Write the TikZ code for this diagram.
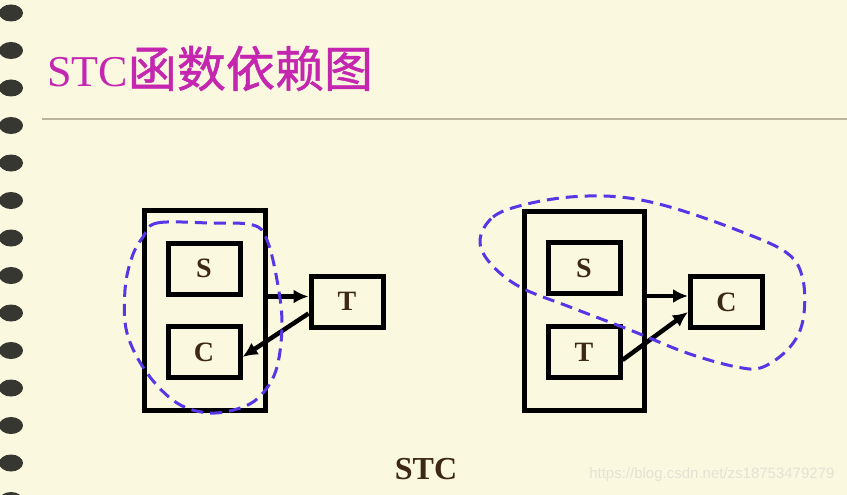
\documentclass[tikz,border=0pt]{standalone}
\usepackage{fontspec}
\setmainfont{Liberation Serif}
\newfontfamily\cjk[FakeBold=1]{Noto Sans CJK SC}
\newfontfamily\urlfont{Liberation Sans}
\usetikzlibrary{arrows.meta,positioning}
\definecolor{paper}{RGB}{251,248,224}
\definecolor{ring}{RGB}{55,55,50}
\definecolor{titlecol}{RGB}{196,38,176}
\definecolor{rulecol}{RGB}{185,180,155}
\definecolor{ink}{RGB}{60,40,20}
\definecolor{hullblue}{RGB}{85,55,230}
\definecolor{mark}{RGB}{228,226,212}

\begin{document}
\begin{tikzpicture}[x=1pt,y=-1pt,
  cell/.style = {draw, line width=5pt, minimum width=72pt, minimum height=51pt,
                 inner sep=0pt, text=ink, font=\fontsize{28}{30}\selectfont\bfseries},
  group/.style = {draw, line width=5pt, inner sep=0pt},
  dep/.style = {line width=4.5pt, -{Latex[length=15pt,width=14pt]}},
  cover/.style = {hullblue, line width=3pt, dash pattern=on 12pt off 7pt}]
	\useasboundingbox (0,0) rectangle (847,495);
	\fill[paper] (0,0) rectangle (847,495);
	% spiral binding
	\foreach \i in {0,...,13}
		\fill[ring] (11,13+37.5*\i) ellipse [x radius=12, y radius=8.5];
	% title
	\node[anchor=base west, inner sep=0pt, text=titlecol] (title) at (47,87)
		{\fontsize{44}{48}\selectfont STC\cjk\fontsize{49}{52}\selectfont 函数依赖图};
	\draw[rulecol, line width=2pt] (42,119.5) -- (847,119.5);

	% left: S -> T, T -> C
	\node[group, minimum width=121pt, minimum height=200pt] (grpL) at (204.5,310) {};
	\node[cell] (sL) at (204,268.5) {S};
	\node[cell] (cL) at (204,352) {C};
	\node[cell] (tL) at (347,301.5) {T};
	\draw[dep] (grpL.east |- sL.south) -- (tL.west |- sL.south);
	\draw[dep] ([yshift=-12pt]tL.west) -- ([yshift=-5pt]cL.east);
	\draw[cover] plot[smooth cycle, tension=0.6] coordinates {
		(143,237) (157,223) (210,223) (253,225) (267,240) (277,280) (282,323)
		(277,367) (263,393) (243,407) (210,413) (177,403) (147,373) (127,333)
		(125,290) (132,257)};

	% right: S -> C, T -> C
	\node[group, minimum width=120pt, minimum height=199pt] (grpR) at (584,310.5) {};
	\node[cell] (sR) at (584,268) {S};
	\node[cell] (tR) at (584,352) {T};
	\node[cell] (cR) at (726.5,302) {C};
	\draw[dep] (grpR.east |- sR.south) -- (cR.west |- sR.south);
	\draw[dep] ([yshift=-8pt]tR.east) -- ([yshift=-10pt]cR.west);
	\draw[cover] plot[smooth cycle, tension=0.6] coordinates {
		(480,240) (493,217) (523,205) (570,197) (620,197) (670,207) (737,230)
		(787,253) (803,280) (803,320) (790,347) (763,367) (737,367) (687,353)
		(630,330) (570,307) (520,287) (490,263)};

	% caption and mark
	\node[text=ink, font=\fontsize{32}{34}\selectfont\bfseries] (caption) at (426,469) {STC};
	\node[text=mark, font=\urlfont\fontsize{15}{16}\selectfont, anchor=east] (url) at (838,475)
		{https://blog.csdn.net/zs18753479279};
\end{tikzpicture}
\end{document}
